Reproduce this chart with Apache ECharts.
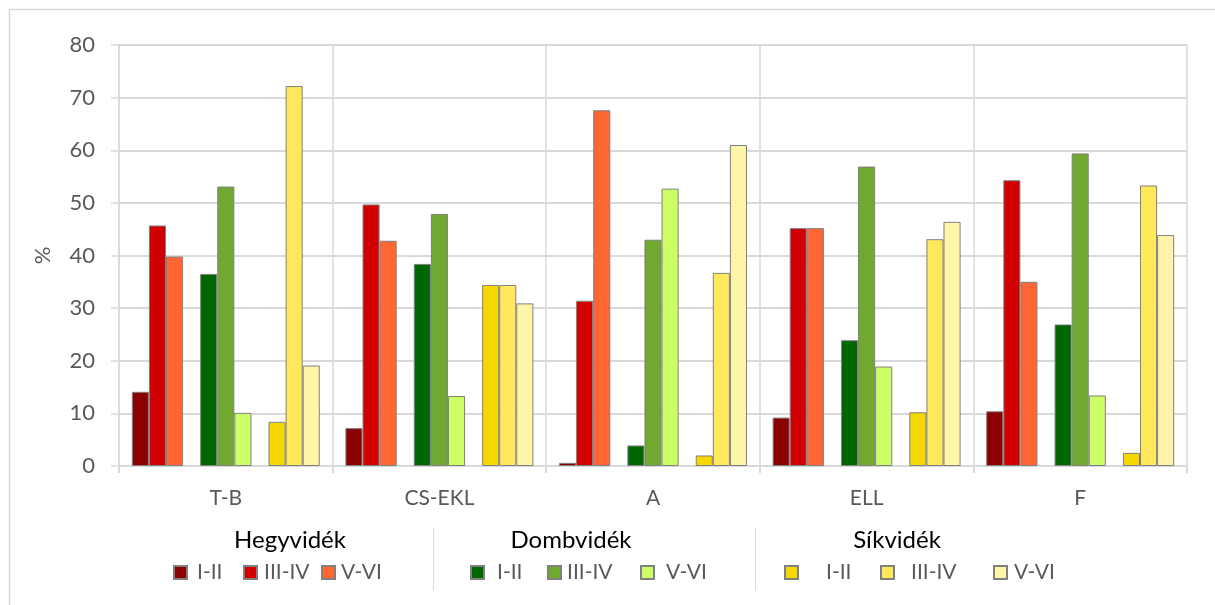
<!DOCTYPE html>
<html><head><meta charset="utf-8">
<script src="https://cdn.jsdelivr.net/npm/echarts@6/dist/echarts.min.js"></script>
<style>html,body{margin:0;padding:0;background:#fff}#c{width:1215px;height:605px}</style>
</head><body><div id="c"></div>
<script>
const categories = ['T-B', 'CS-EKL', 'A', 'ELL', 'F'];
const groupNames = ['Hegyvidék', 'Dombvidék', 'Síkvidék'];
const classNames = ['I-II', 'III-IV', 'V-VI'];
// values per group and class, in category order
const hegy_I_II   = [14.1, 7.2, 0.6, 9.2, 10.4];
const hegy_III_IV = [45.7, 49.7, 31.4, 45.2, 54.3];
const hegy_V_VI   = [39.8, 42.8, 67.6, 45.2, 35.0];
const domb_I_II   = [36.5, 38.4, 3.9, 23.9, 26.9];
const domb_III_IV = [53.1, 47.9, 43.0, 56.9, 59.4];
const domb_V_VI   = [10.1, 13.3, 52.7, 18.9, 13.4];
const sik_I_II    = [8.4, 34.4, 2.0, 10.2, 2.5];
const sik_III_IV  = [72.2, 34.4, 36.7, 43.1, 53.3];
const sik_V_VI    = [19.1, 30.9, 61.0, 46.4, 43.9];
const yTicks = [0, 10, 20, 30, 40, 50, 60, 70, 80];

const colors = [
  ['#8B0000', '#D20000', '#FF6633'],
  ['#006600', '#70A830', '#CCFF66'],
  ['#F5D800', '#FFE85C', '#FFF5A8']
];
const values = [
  [hegy_I_II, hegy_III_IV, hegy_V_VI],
  [domb_I_II, domb_III_IV, domb_V_VI],
  [sik_I_II, sik_III_IV, sik_V_VI]
];
const FONT = 'Lato';
const series = [];
const legends = [];
const legendLefts = [[173, 243, 321], [470, 547, 640], [784, 880, 993]];
const legendTextPad = [[10, 7, 6], [13, 6, 12], [28, 17, 7]];
groupNames.forEach((g, gi) => {
  classNames.forEach((c, ci) => {
    const name = g + '|' + c;
    series.push({
      name: name, type: 'bar', data: values[gi][ci],
      barGap: '0%', barCategoryGap: '12%',
      itemStyle: { color: colors[gi][ci], borderColor: '#808080', borderWidth: 1 }
    });
    legends.push({
      data: [name], left: legendLefts[gi][ci], top: 562,
      itemWidth: 13, itemHeight: 13, itemGap: 0, padding: 0,
      icon: 'rect', selectedMode: false,
      formatter: n => n.split('|')[1],
      textStyle: { fontFamily: FONT, fontSize: 21, color: '#595959', padding: [0, 0, 0, legendTextPad[gi][ci] - 5] }
    });
  });
  if (gi < 2) {
    series.push({ name: 'gap' + gi, type: 'bar', data: categories.map(() => null), barGap: '0%', barCategoryGap: '12%' });
  }
});

const chart = echarts.init(document.getElementById('c'), null, { renderer: 'canvas' });
chart.setOption({
  animation: false,
  backgroundColor: '#fff',
  grid: { left: 119, right: 28, top: 45, bottom: 139, containLabel: false },
  legend: legends,
  xAxis: {
    type: 'category', data: categories,
    axisLine: { show: true, lineStyle: { color: '#d9d9d9', width: 2 } },
    axisTick: { show: true, length: 7, interval: 0, lineStyle: { color: '#d9d9d9', width: 2 } },
    splitLine: { show: true, interval: 0, lineStyle: { color: '#d9d9d9', width: 1.5 } },
    axisLabel: { fontFamily: FONT, fontSize: 21, color: '#595959', margin: 22 }
  },
  yAxis: {
    type: 'value', min: yTicks[0], max: yTicks[yTicks.length - 1], interval: 10,
    name: '%', nameLocation: 'middle', nameGap: 65, nameRotate: 90,
    nameTextStyle: { fontFamily: FONT, fontSize: 22, color: '#595959' },
    axisLine: { show: true, lineStyle: { color: '#d9d9d9', width: 1.5 } },
    axisTick: { show: true, length: 8, lineStyle: { color: '#d9d9d9', width: 1.5 } },
    splitLine: { show: true, lineStyle: { color: '#d9d9d9', width: 2 } },
    axisLabel: { fontFamily: FONT, fontSize: 22, color: '#595959', margin: 24 }
  },
  series: series,
  graphic: [
    { type: 'line', shape: { x1: 9, y1: 9.5, x2: 1215, y2: 9.5 }, style: { stroke: '#d9d9d9', lineWidth: 1.5 } },
    { type: 'line', shape: { x1: 9.5, y1: 9, x2: 9.5, y2: 605 }, style: { stroke: '#d9d9d9', lineWidth: 1.5 } },
    { type: 'line', shape: { x1: 433.5, y1: 528, x2: 433.5, y2: 590 }, style: { stroke: '#d9d9d9', lineWidth: 1 } },
    { type: 'line', shape: { x1: 755.5, y1: 528, x2: 755.5, y2: 590 }, style: { stroke: '#d9d9d9', lineWidth: 1 } },
    { type: 'text', x: 290, y: 540, style: { text: groupNames[0], fontFamily: FONT, fontSize: 24, fill: '#000', textAlign: 'center', textVerticalAlign: 'middle' } },
    { type: 'text', x: 571, y: 540, style: { text: groupNames[1], fontFamily: FONT, fontSize: 24, fill: '#000', textAlign: 'center', textVerticalAlign: 'middle' } },
    { type: 'text', x: 897, y: 540, style: { text: groupNames[2], fontFamily: FONT, fontSize: 24, fill: '#000', textAlign: 'center', textVerticalAlign: 'middle' } }
  ]
});
</script></body></html>
